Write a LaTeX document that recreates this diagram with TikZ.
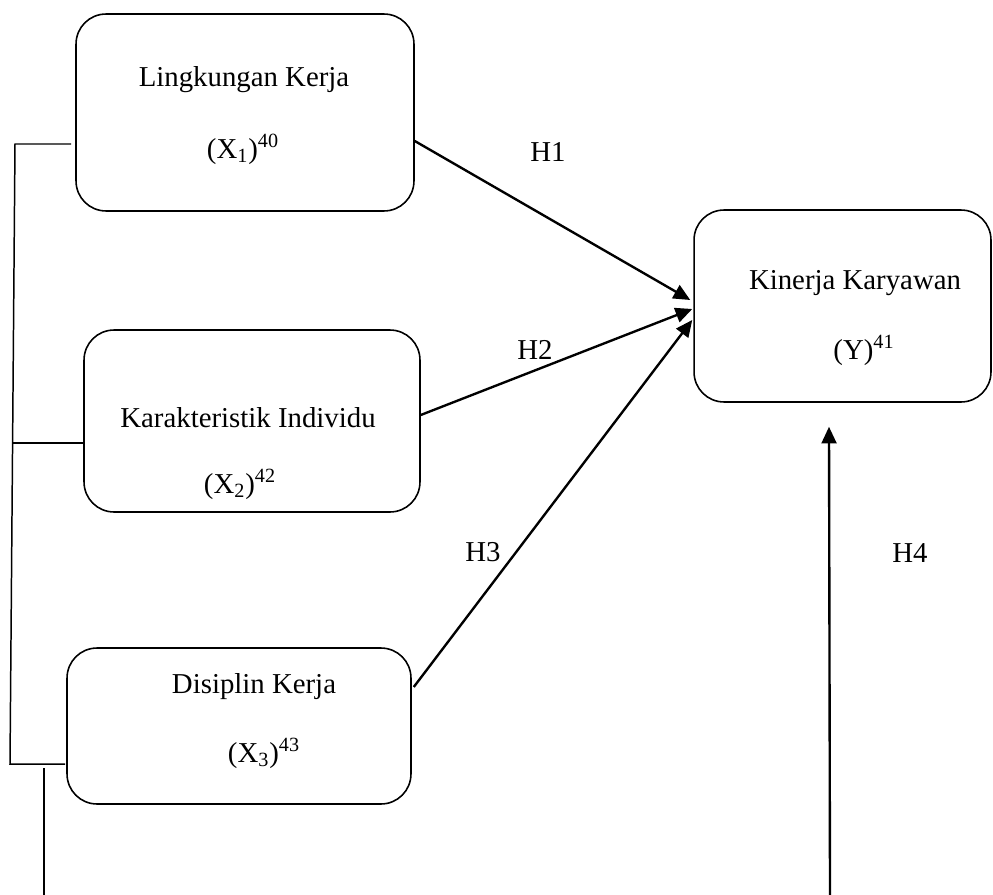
\documentclass[tikz,border=0pt]{standalone}
\usepackage{fontspec}
\setmainfont{Liberation Serif}
\usetikzlibrary{arrows.meta, calc}

\begin{document}
\begin{tikzpicture}[x=0.02cm, y=-0.02cm,
  every node/.style={font=\fontsize{16.4}{19}\selectfont},
  varbox/.style={draw, line width=0.9pt, rounded corners=0.6cm, inner sep=0pt},
  arr/.style={line width=1.35pt, -{Triangle[length=9.5pt, width=8.5pt]}},
  link/.style={line width=0.85pt}]
  \useasboundingbox (0,0) rectangle (993,895);
  % variable boxes
  \node[varbox, minimum width=6.76cm, minimum height=3.94cm] (lk) at (245,112.5) {};
  \node[varbox, minimum width=6.72cm, minimum height=3.64cm] (ki) at (252,421) {};
  \node[varbox, minimum width=6.88cm, minimum height=3.12cm] (dk) at (239,726) {};
  \node[varbox, minimum width=5.94cm, minimum height=3.84cm] (kk) at (842.5,306) {};
  % box texts
  \node (lkname) at (244,80) {Lingkungan Kerja};
  \node (lkvar) at (243,149) {(X\textsubscript{1})\textsuperscript{40}};
  \node (kiname) at (248,418) {Karakteristik Individu};
  \node (kivar) at (240,484) {(X\textsubscript{2})\textsuperscript{42}};
  \node (dkname) at (254,687) {Disiplin Kerja};
  \node (dkvar) at (264,753) {(X\textsubscript{3})\textsuperscript{43}};
  \node (kkname) at (855,283) {Kinerja Karyawan};
  \node (kkvar) at (864,350) {(Y)\textsuperscript{41}};
  % hypothesis labels
  \node (h1) at (548,152) {H1};
  \node (h2) at (535,350) {H2};
  \node (h3) at (483,552) {H3};
  \node (h4) at (910,553) {H4};
  % arrows to Y
  \draw[arr] ($(lk.east)+(0,28.5)$) -- ($(kk.west)+(-3,-6)$);
  \draw[arr] ($(ki.east)+(0,-6)$) -- ($(kk.west)+(-1,3)$);
  \draw[arr] ($(dk.east)+(2,-39)$) -- ($(kk.west)+(-1,14)$);
  \coordinate (h4foot) at (830,895);
  \draw[arr] (h4foot) -- ($(kk.south)+(-13.5,24)$);
  % bracket on the left
  \coordinate (b1) at (15,144);
  \coordinate (b2) at (13,443);
  \coordinate (b3) at (10,764);
  \draw[link] ($(lk.west)+(-4,31.5)$) -- (b1) -- (b3) -- ($(dk.west)+(-1,38)$);
  \draw[link] (b2) -- ($(ki.west)+(0,22)$);
  \coordinate (b4top) at (44,768);
  \coordinate (b4foot) at (44,895);
  \draw[link] (b4top) -- (b4foot);
\end{tikzpicture}
\end{document}
